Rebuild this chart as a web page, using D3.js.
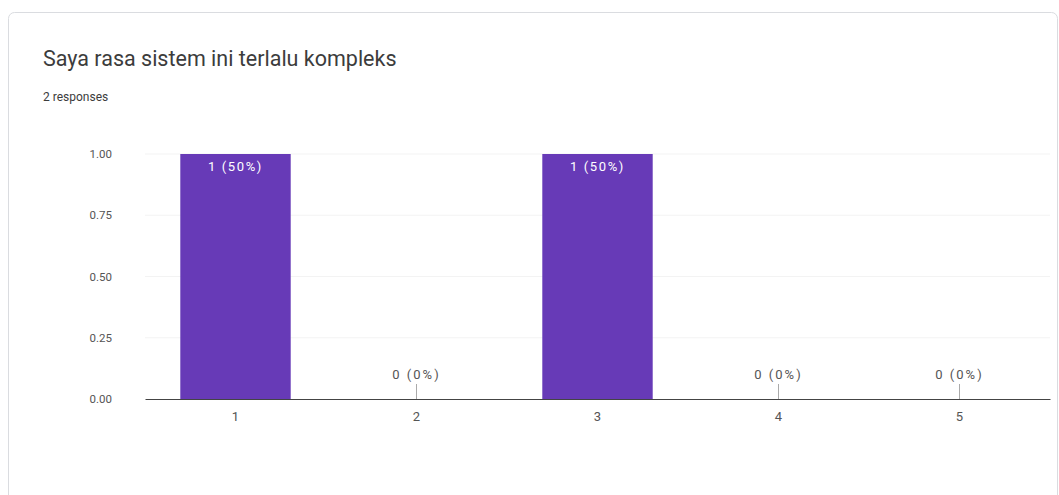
<!DOCTYPE html>
<html>
<head>
<meta charset="utf-8">
<script src="https://cdn.jsdelivr.net/npm/d3@7"></script>
<style>
  body { margin: 0; background: #fff; font-family: Roboto, Arial, sans-serif; }
</style>
</head>
<body>
<div id="chart-area"></div>
<script>
const categories = ["1", "2", "3", "4", "5"]
const counts = [1, 0, 1, 0, 0]
const percents = ["50%", "0%", "50%", "0%", "0%"]
const yTicks = [0, 0.25, 0.5, 0.75, 1]
const title = "Saya rasa sistem ini terlalu kompleks"
const subtitle = "2 responses"

const W = 1059, H = 495
const MARGIN = { LEFT: 145, RIGHT: 9, TOP: 154, BOTTOM: 96 }
const WIDTH = W - MARGIN.LEFT - MARGIN.RIGHT
const HEIGHT = H - MARGIN.TOP - MARGIN.BOTTOM

const svg = d3.select("#chart-area").append("svg")
	.attr("width", W)
	.attr("height", H)

// card
svg.append("rect")
	.attr("x", 8.5).attr("y", 12.5)
	.attr("width", 1049).attr("height", 500)
	.attr("rx", 6)
	.attr("fill", "#fff")
	.attr("stroke", "#dadce0")

svg.append("text")
	.attr("x", 43).attr("y", 66)
	.attr("font-size", "21.5px")
	.attr("fill", "#3c3c3c")
	.text(title)

svg.append("text")
	.attr("x", 43).attr("y", 101)
	.attr("font-size", "12px")
	.attr("fill", "#3c3c3c")
	.text(subtitle)

const g = svg.append("g")
	.attr("transform", `translate(${MARGIN.LEFT}, ${MARGIN.TOP})`)

const x = d3.scaleBand().domain(categories).range([0, WIDTH])
	.paddingInner(0.39).paddingOuter(0.195)
const y = d3.scaleLinear().domain([0, 1]).range([HEIGHT, 0])

// gridlines
g.selectAll(".grid").data(yTicks.filter(d => d > 0)).enter().append("line")
	.attr("x1", 0).attr("x2", WIDTH)
	.attr("y1", d => y(d)).attr("y2", d => y(d))
	.attr("stroke", "#f3f3f3")

// y axis labels
const yAxis = g.append("g").call(d3.axisLeft(y).tickValues(yTicks).tickFormat(d3.format(".2f")).tickSize(0).tickPadding(33))
yAxis.select(".domain").remove()
yAxis.selectAll("text").attr("font-size", "11.5px").attr("fill", "#555").attr("font-family", "Roboto, Arial, sans-serif")

// bars
g.selectAll(".bar").data(categories).enter().append("rect")
	.attr("x", d => x(d))
	.attr("width", x.bandwidth())
	.attr("y", (d, i) => y(counts[i]))
	.attr("height", (d, i) => HEIGHT - y(counts[i]))
	.attr("fill", "#673ab7")

// value labels
categories.forEach((c, i) => {
	const cx = x(c) + x.bandwidth() / 2
	if (counts[i] > 0) {
		g.append("text")
			.attr("x", cx).attr("y", y(counts[i]) + 17)
			.attr("text-anchor", "middle")
			.attr("font-size", "13px").attr("letter-spacing", "1.6px").attr("fill", "#fff")
			.text(`${counts[i]} (${percents[i]})`)
	} else {
		g.append("line")
			.attr("x1", cx).attr("x2", cx)
			.attr("y1", HEIGHT - 15).attr("y2", HEIGHT)
			.attr("stroke", "#aaa")
		g.append("text")
			.attr("x", cx).attr("y", HEIGHT - 20)
			.attr("text-anchor", "middle")
			.attr("font-size", "13px").attr("letter-spacing", "2px").attr("fill", "#555")
			.text(`${counts[i]} (${percents[i]})`)
	}
})

// x axis
const xAxis = g.append("g")
	.attr("transform", `translate(0, ${HEIGHT})`)
	.call(d3.axisBottom(x).tickSize(0).tickPadding(13))
xAxis.select(".domain").attr("stroke", "#444")
xAxis.selectAll("text").attr("font-size", "13px").attr("fill", "#555").attr("font-family", "Roboto, Arial, sans-serif")
</script>
</body>
</html>
